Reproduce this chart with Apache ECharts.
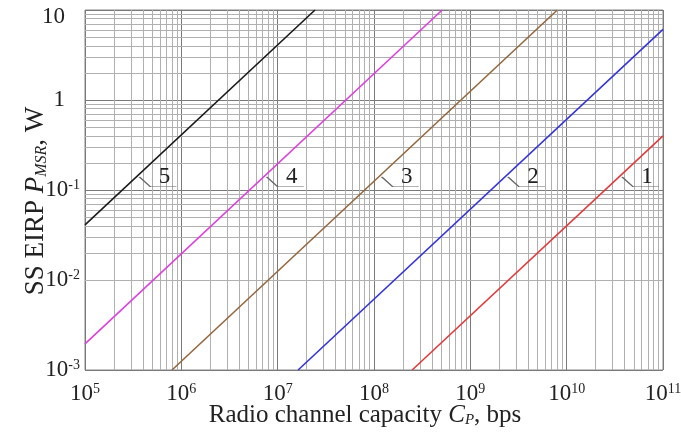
<!DOCTYPE html>
<html><head><meta charset="utf-8">
<script src="https://cdn.jsdelivr.net/npm/echarts@6/dist/echarts.min.js"></script>
<style>html,body{margin:0;padding:0;background:#fff}#c{width:681px;height:435px}</style>
</head><body><div id="c"></div>
<script>
// ---- data ----
const xDecades = [1e5, 1e6, 1e7, 1e8, 1e9, 1e10, 1e11];
const yDecades = [1e-3, 1e-2, 1e-1, 1, 10];
const minorMultipliers = [2, 3, 4, 5, 6, 7, 8, 9];
const curveNames = ['1', '2', '3', '4', '5'];
const curve1 = [[2.49e8, 0.001], [1e11, 0.40]];
const curve2 = [[1.63e7, 0.001], [1e11, 6.1]];
const curve3 = [[8.0e5, 0.001], [8.0e9, 10]];
const curve4 = [[1e5, 0.00195], [5.1e8, 10]];
const curve5 = [[1e5, 0.041], [2.44e7, 10]];
const curveColors = ['#e23a3a', '#3434dc', '#94683f', '#de40de', '#1a1a1a'];
const calloutY = 0.14;

const FONT = '"Liberation Serif", "Times New Roman", serif';
const curves = [curve1, curve2, curve3, curve4, curve5];

function anchorX(c) {
  const lx0 = Math.log10(c[0][0]), ly0 = Math.log10(c[0][1]);
  const lx1 = Math.log10(c[1][0]), ly1 = Math.log10(c[1][1]);
  const lx = lx0 + (Math.log10(calloutY) - ly0) * (lx1 - lx0) / (ly1 - ly0);
  return Math.pow(10, lx);
}

const minorX = [], minorY = [];
xDecades.slice(0, -1).forEach(d => minorMultipliers.forEach(m => minorX.push({ xAxis: d * m })));
yDecades.slice(0, -1).forEach(d => minorMultipliers.forEach(m => minorY.push({ yAxis: d * m })));

const richBase = {
  b: { fontFamily: FONT, fontSize: 23, color: '#222', lineHeight: 24 },
  bp: { fontFamily: FONT, fontSize: 23, color: '#222', lineHeight: 24, padding: [0, 15, 0, 0] },
  bt: { fontFamily: FONT, fontSize: 23, color: '#222', lineHeight: 24, padding: [14, 15, 0, 0] },
  s: { fontFamily: FONT, fontSize: 14, color: '#222', verticalAlign: 'top', lineHeight: 14 }
};

const series = [{
  type: 'line', data: [], silent: true, z: 1,
  markLine: {
    silent: true, symbol: 'none', animation: false, z: 1,
    label: { show: false },
    lineStyle: { color: '#b0b0b0', width: 1, type: 'solid' },
    emphasis: { disabled: true },
    data: minorX.concat(minorY)
  }
}];
curves.forEach((c, i) => {
  series.push({
    type: 'line', name: curveNames[i], data: c, showSymbol: false, z: 10,
    lineStyle: { color: curveColors[i], width: 1.6 },
    itemStyle: { color: curveColors[i] },
    animation: false,
    markPoint: {
      silent: true, animation: false, z: 10,
      symbol: 'path://M0,0L11,10L37,10',
      symbolSize: [37, 10], symbolKeepAspect: false,
      symbolOffset: [21.5, 5],
      itemStyle: { color: 'transparent', borderColor: '#666', borderWidth: 1 },
      label: {
        show: true, formatter: curveNames[i], position: [26, 0],
        align: 'center', verticalAlign: 'middle',
        fontFamily: FONT, fontSize: 23, color: '#222'
      },
      data: [{ coord: [anchorX(c), calloutY] }]
    }
  });
});

const chart = echarts.init(document.getElementById('c'), null, { renderer: 'canvas' });
chart.setOption({
  animation: false,
  backgroundColor: '#fff',
  grid: {
    left: 85, right: 18, top: 10, bottom: 65, show: true, borderColor: '#888', borderWidth: 1,
    containLabel: false, outerBoundsMode: 'none'
  },
  xAxis: {
    type: 'log', logBase: 10, min: xDecades[0], max: xDecades[xDecades.length - 1], splitNumber: 6,
    axisLine: { show: false }, axisTick: { show: false },
    splitLine: { show: true, lineStyle: { color: '#7a7a7a', width: 1 } },
    axisLabel: {
      margin: 12, hideOverlap: false,
      formatter: v => '{b|10}{s|' + Math.round(Math.log10(v)) + '}',
      rich: richBase
    },
    name: 'Radio channel capacity {i|C}{sub|P}, bps',
    nameLocation: 'middle', nameGap: 32, nameMoveOverlap: false,
    nameTextStyle: {
      fontFamily: FONT, fontSize: 25, color: '#222', lineHeight: 26, padding: [0, 18, 0, 0],
      rich: {
        i: { fontFamily: FONT, fontSize: 25, fontStyle: 'italic', color: '#222', lineHeight: 26 },
        sub: { fontFamily: FONT, fontSize: 15, fontStyle: 'italic', color: '#222', verticalAlign: 'bottom', lineHeight: 15 }
      }
    }
  },
  yAxis: {
    type: 'log', logBase: 10, min: yDecades[0], max: yDecades[yDecades.length - 1], splitNumber: 4,
    axisLine: { show: false }, axisTick: { show: false },
    splitLine: { show: true, lineStyle: { color: '#7a7a7a', width: 1 } },
    axisLabel: {
      margin: 5, hideOverlap: false,
      formatter: v => {
        const e = Math.round(Math.log10(v));
        if (e === 0) return '{bp|1}';
        if (e === 1) return '{bt|10}';
        return '{b|10}{s|' + e + '}';
      },
      rich: richBase
    },
    name: 'SS EIRP {i|P}{sub|MSR}, W',
    nameLocation: 'middle', nameGap: 35, nameMoveOverlap: false,
    nameTextStyle: {
      fontFamily: FONT, fontSize: 27, color: '#222', lineHeight: 28, padding: [0, 22, 0, 0],
      rich: {
        i: { fontFamily: FONT, fontSize: 27, fontStyle: 'italic', color: '#222', lineHeight: 28 },
        sub: { fontFamily: FONT, fontSize: 16, fontStyle: 'italic', color: '#222', verticalAlign: 'bottom', lineHeight: 16 }
      }
    }
  },
  series: series
});
</script>
</body></html>
